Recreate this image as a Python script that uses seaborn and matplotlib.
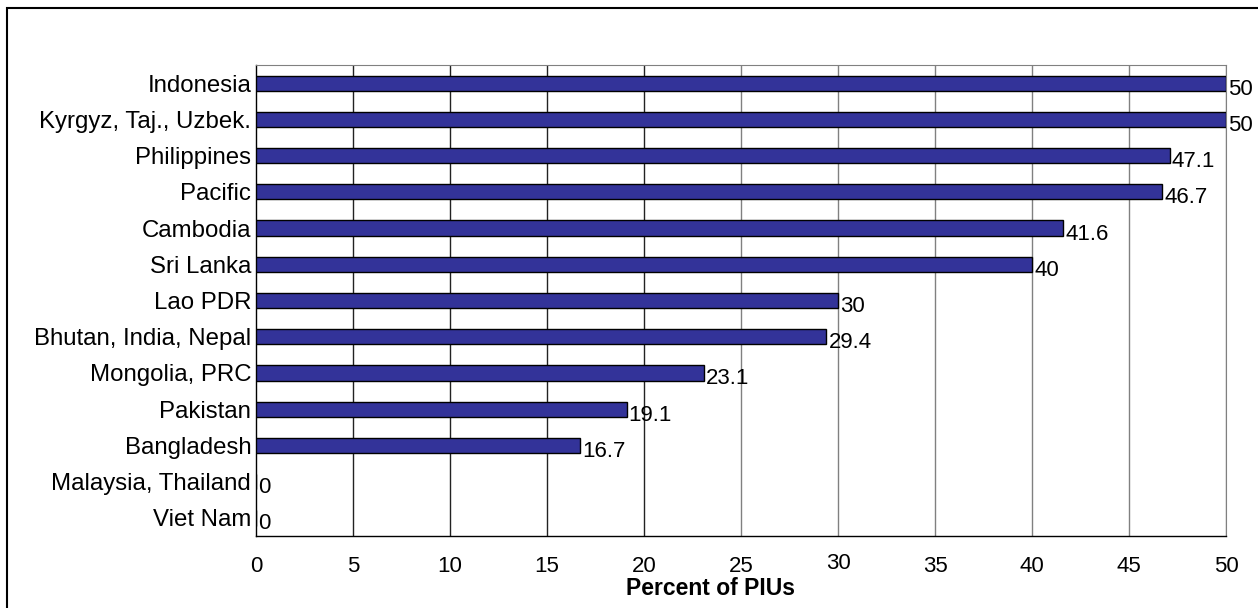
import matplotlib
matplotlib.use("Agg")
import matplotlib.pyplot as plt
from matplotlib.patches import Rectangle
import matplotlib.transforms as mtransforms
import seaborn as sns
import pandas as pd

# Share of PIUs by country group
countries = ["Indonesia", "Kyrgyz, Taj., Uzbek.", "Philippines", "Pacific", "Cambodia",
             "Sri Lanka", "Lao PDR", "Bhutan, India, Nepal", "Mongolia, PRC", "Pakistan",
             "Bangladesh", "Malaysia, Thailand", "Viet Nam"]
percent = [50, 50, 47.1, 46.7, 41.6, 40, 30, 29.4, 23.1, 19.1, 16.7, 0, 0]
value_labels = ["50", "50", "47.1", "46.7", "41.6", "40", "30", "29.4", "23.1", "19.1",
                "16.7", "0", "0"]
x_ticks = [0, 5, 10, 15, 20, 25, 30, 35, 40, 45, 50]

df = pd.DataFrame({"country": countries, "percent": percent})

sns.set_style("white")
plt.rcParams["font.family"] = ["Liberation Sans", "DejaVu Sans"]
plt.rcParams["text.color"] = "black"
plt.rcParams["xtick.labelcolor"] = "black"
plt.rcParams["ytick.labelcolor"] = "black"
plt.rcParams["axes.labelcolor"] = "black"

fig = plt.figure(figsize=(12.58, 6.08), dpi=100)
ax = fig.add_axes([0.2035, 0.1184, 0.7711, 0.7746])

sns.barplot(data=df, y="country", x="percent", orient="h", color="#333399",
            saturation=1, width=0.42, edgecolor="black", linewidth=1.0, ax=ax, zorder=3)

ax.set_xlim(0, 50)
ax.set_ylim(len(countries) - 0.5, -0.5)
ax.set_xticks(x_ticks)
ax.set_xticklabels([str(t) for t in x_ticks], fontsize=16)
ax.tick_params(axis="x", direction="out", length=4, width=1, color="#808080", pad=10.5)

# category labels; tick marks sit on the category boundaries
ax.set_yticks(range(len(countries)))
ax.set_yticklabels(countries, fontsize=17.3)
ax.tick_params(axis="y", which="major", length=0, pad=3.5)
ax.set_yticks([i - 0.5 for i in range(len(countries) + 1)], minor=True)
ax.tick_params(axis="y", which="minor", direction="out", length=5, width=1, color="black")

ax.set_xlabel("Percent of PIUs", fontsize=16.5, fontweight="bold")
ax.xaxis.set_label_coords(0.469, -0.088)
ax.set_ylabel("")

# vertical gridlines
grid_colors = {5: "#222222", 10: "#222222", 15: "#222222", 20: "#222222"}
for t in x_ticks[1:]:
    ax.axvline(t, color=grid_colors.get(t, "#808080"), linewidth=1, zorder=1)

for side in ["left", "bottom"]:
    ax.spines[side].set_color("black")
    ax.spines[side].set_linewidth(1)
ax.spines["top"].set_color("#808080")
ax.spines["right"].set_color("#808080")

# value labels just past the bar ends
for i, (v, lab) in enumerate(zip(percent, value_labels)):
    ax.annotate(lab, xy=(v, i), xytext=(2, -6), textcoords="offset pixels",
                ha="left", va="center", fontsize=16, zorder=4, annotation_clip=False)

# the "30" tick label sits slightly higher
for lbl in ax.get_xticklabels():
    if lbl.get_text() == "30":
        lbl.set_transform(lbl.get_transform() +
                          mtransforms.ScaledTranslation(0, 3 / 100, fig.dpi_scale_trans))

# chart frame
frame = Rectangle((7 / 1258, -0.2), 1.2, 0.2 + (1 - 8 / 608), transform=fig.transFigure,
                  fill=False, edgecolor="black", linewidth=1.5, zorder=0)
fig.patches.append(frame)

fig.savefig("out.png", dpi=100)
